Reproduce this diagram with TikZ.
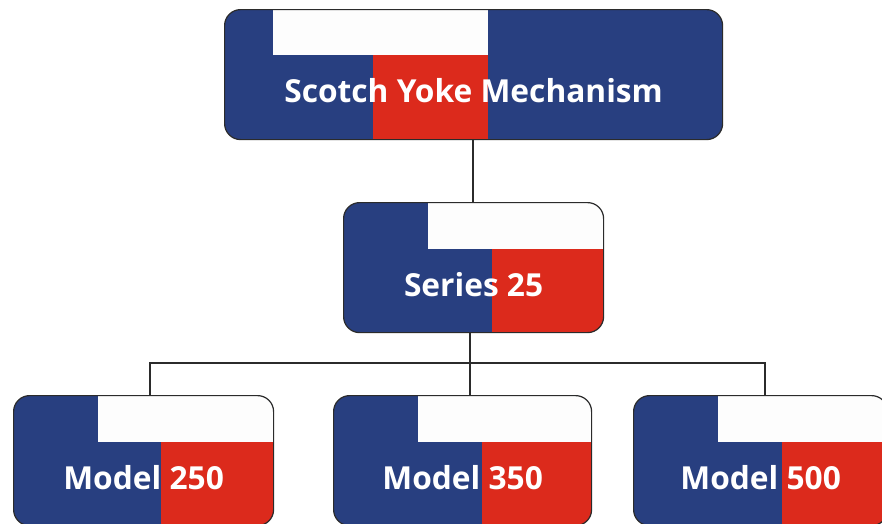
\documentclass[tikz,border=0pt]{standalone}
\usepackage{fontspec}
\setmainfont{Open Sans}
\usetikzlibrary{calc}
\definecolor{yblue}{HTML}{283F80}
\definecolor{yred}{HTML}{DC2A1C}
\definecolor{ywhite}{HTML}{FDFDFD}
\definecolor{yline}{HTML}{2B2B2B}
\tikzset{
  flagbox/.style n args={6}{draw=yline, line width=1.2pt, fill=yblue, rounded corners=16pt,
    minimum width=#1, minimum height=130pt, inner sep=0pt, anchor=north west,
    path picture={
      \fill[ywhite, sharp corners] ([xshift=#2]path picture bounding box.north west) rectangle
        ([xshift=#3,yshift=-#4]path picture bounding box.north west);
      \fill[yred, sharp corners] ([xshift=#5,yshift=-#4]path picture bounding box.north west) rectangle
        ([xshift=#6]path picture bounding box.south west);
    }},
  flagtext/.style={text=white, font=\bfseries\fontsize{31.7}{38}\selectfont, inner sep=0pt},
  conn/.style={draw=yline, line width=2pt}
}
\begin{document}
\begin{tikzpicture}[x=1pt,y=-1pt]
\useasboundingbox (0,0) rectangle (882,523);
\clip (0,0) rectangle (882,523);
\node[flagbox={498pt}{48pt}{263pt}{45pt}{148pt}{263pt}] (top) at (224,9) {};
\node[flagbox={260pt}{84pt}{262pt}{46pt}{148pt}{262pt}] (series) at (343,202) {};
\node[flagbox={260pt}{84pt}{262pt}{46pt}{147pt}{262pt}] (m250) at (13,395) {};
\node[flagbox={258pt}{84pt}{262pt}{46pt}{148pt}{262pt}] (m350) at (333,395) {};
\node[flagbox={254pt}{84pt}{262pt}{46pt}{148pt}{262pt}] (m500) at (633,395) {};
\node[flagtext] (ttop) at ([yshift=-16pt]top.center) {Scotch Yoke Mechanism};
\node[flagtext] (tseries) at ([yshift=-17pt]series.center) {Series 25};
\node[flagtext] (t250) at ([yshift=-17pt]m250.center) {Model 250};
\node[flagtext] (t350) at ([yshift=-17pt]m350.center) {Model 350};
\node[flagtext] (t500) at ([yshift=-17pt]m500.center) {Model 500};
\coordinate (bar) at (470,363);
\draw[conn] (top.south -| 473,0) -- (series.north -| 473,0);
\draw[conn] (series.south -| bar) -- (bar);
\draw[conn] (m250.north -| 150,0) |- (bar) -| (m500.north -| 765,0);
\draw[conn] (bar) -- (m350.north -| bar);
\end{tikzpicture}
\end{document}
